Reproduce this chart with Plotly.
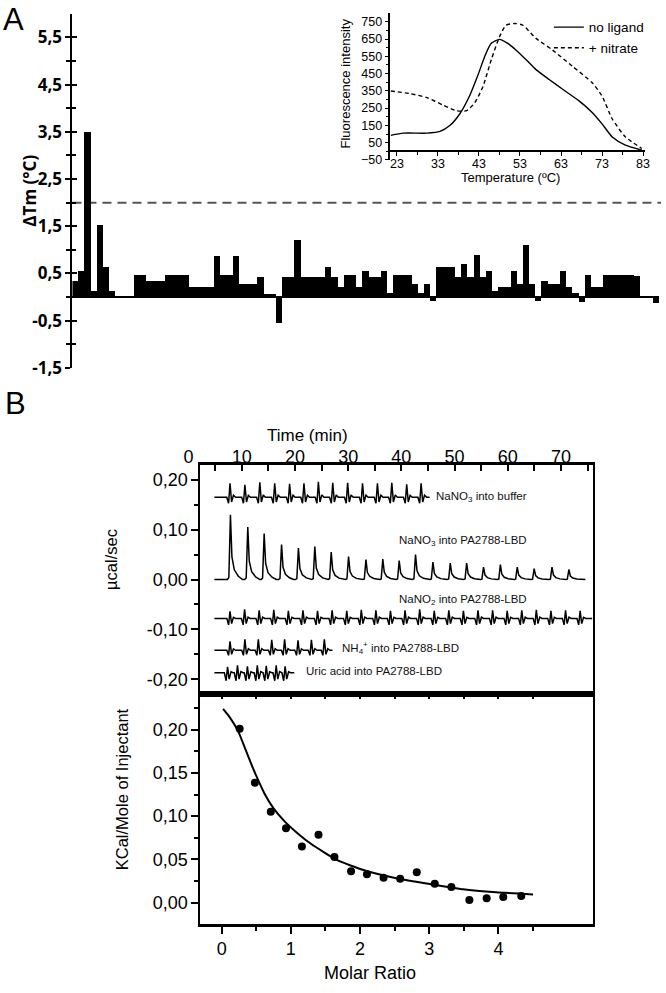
import plotly.graph_objects as go

W, H = 666, 993
def fx(p): return p / W
def fy(p): return 1 - p / H

# ---------------- Panel A: thermal shift screen ----------------
compound_index = list(range(1, 96))
dtm_values = [0.34, 0.55, 3.5, 0.14, 1.52, 0.63, 0.14, 0.015, 0.015, 0.015,
              0.47, 0.47, 0.35, 0.35, 0.35, 0.47, 0.47, 0.47, 0.47, 0.21,
              0.21, 0.21, 0.21, 0.87, 0.47, 0.47, 0.87, 0.28, 0.28, 0.28,
              0.42, 0.07, 0.07, -0.55, 0.42, 0.42, 1.22, 0.42, 0.42, 0.42,
              0.42, 0.63, 0.42, 0.21, 0.47, 0.47, 0.21, 0.55, 0.42, 0.42,
              0.55, 0.08, 0.47, 0.47, 0.47, 0.28, 0.08, 0.28, -0.07, 0.63,
              0.63, 0.63, 0.42, 0.70, 0.42, 0.89, 0.42, 0.55, 0.14, 0.21,
              0.21, 0.55, 0.28, 1.10, 0.28, -0.07, 0.35, 0.28, 0.28, 0.55,
              0.21, 0.08, -0.10, 0.47, 0.21, 0.21, 0.47, 0.47, 0.47, 0.47,
              0.47, 0.45, 0.01, 0.01, -0.13]
threshold = 2.0
a_tickvals = [-1.5, -0.5, 0.5, 1.5, 2.5, 3.5, 4.5, 5.5]
a_ticktext = ["-1,5", "-0,5", "0,5", "1,5", "2,5", "3,5", "4,5", "5,5"]
a_minor = [-1, 0, 1, 2, 3, 4, 5]

# Inset: melting curves
temp_noligand = [21.5, 24.6, 30.3, 33.5, 35.9, 38.3, 40.7, 42.8, 44.4, 46.0, 48.0,
                 50.0, 52.0, 54.5, 56.9, 60.1, 63.4, 67.4, 70.6, 73.0, 75.5, 78.7, 82.7]
fl_noligand = [92, 105, 105, 115, 149, 216, 320, 444, 549, 625, 648,
               625, 587, 530, 473, 416, 359, 292, 225, 159, 83, 35, 6]
temp_nitrate = [21.5, 26.2, 30.3, 34.3, 37.5, 40.0, 42.0, 44.0, 46.0, 48.0, 49.6,
                52.0, 53.7, 56.9, 60.9, 65.8, 70.6, 73.0, 75.5, 78.7, 82.7]
fl_nitrate = [349, 334, 311, 267, 235, 235, 282, 377, 530, 663, 730,
              740, 730, 654, 587, 492, 397, 320, 187, 83, 16]
inset_xticks = [23, 33, 43, 53, 63, 73, 83]
inset_yticks = [-50, 50, 150, 250, 350, 450, 550, 650, 750]

# ---------------- Panel B: ITC ----------------
trace_start = 4.85  # min, start of recorded baselines
buf_base, buf_dip, buf_end = 0.165, 0.012, 45.3
buf_t = [7.74, 10.54, 13.34, 16.14, 18.94, 21.64, 24.35, 27.05, 29.85, 32.65, 35.45,
         38.15, 40.95, 43.66]
buf_h = [0.028, 0.025, 0.030, 0.028, 0.027, 0.028, 0.031, 0.029, 0.029, 0.028, 0.028,
         0.029, 0.026, 0.028]

no3_base, no3_end = 0.0, 74.6
no3_t = [7.65, 10.91, 13.99, 17.26, 20.43, 23.51, 26.59, 29.85, 33.12, 36.29, 39.37,
         42.44, 45.71, 48.97, 52.05, 55.22, 58.39, 61.56, 64.74, 68.09, 71.27]
no3_h = [0.130, 0.105, 0.092, 0.070, 0.063, 0.066, 0.055, 0.046, 0.040, 0.041, 0.038,
         0.050, 0.035, 0.033, 0.033, 0.025, 0.030, 0.025, 0.022, 0.025, 0.020]

no2_base, no2_dip, no2_end = -0.078, 0.013, 75.9
no2_t = [7.74, 10.48, 13.22, 15.97, 18.71, 21.45, 24.19, 26.93, 29.68, 32.42, 35.16,
         37.90, 40.64, 43.39, 46.13, 48.87, 51.61, 54.35, 57.10, 59.84, 62.58, 65.32,
         68.06, 70.81, 73.55]
no2_h = [0.014, 0.018, 0.016, 0.017, 0.015, 0.016, 0.015, 0.016, 0.015, 0.017, 0.016,
         0.015, 0.016, 0.018, 0.015, 0.016, 0.015, 0.016, 0.016, 0.015, 0.016, 0.017,
         0.015, 0.016, 0.015]

nh4_base, nh4_dip, nh4_end = -0.142, 0.010, 27.05
nh4_t = [7.74, 10.54, 13.06, 15.58, 18.00, 20.52, 23.04, 25.47]
nh4_h = [0.018, 0.022, 0.022, 0.021, 0.022, 0.020, 0.021, 0.022]

uric_base, uric_dip, uric_end = -0.187, 0.016, 19.87
uric_t = [7.28, 9.14, 11.01, 12.87, 14.55, 16.42, 18.10]
uric_h = [0.012, 0.015, 0.013, 0.015, 0.014, 0.015, 0.013]

time_ticks = [0, 10, 20, 30, 40, 50, 60, 70]
raw_ticks = [-0.2, -0.1, 0.0, 0.1, 0.2]
raw_ticktext = ["-0,20", "-0,10", "0,00", "0,10", "0,20"]

# integrated heats
molar_ratio = [0.26, 0.48, 0.71, 0.93, 1.16, 1.40, 1.63, 1.87, 2.10, 2.34, 2.58, 2.82,
               3.08, 3.32, 3.58, 3.83, 4.07, 4.33]
heat = [0.201, 0.1385, 0.105, 0.086, 0.065, 0.0786, 0.0527, 0.0363, 0.0328, 0.0286,
        0.0275, 0.0351, 0.0218, 0.018, 0.003, 0.005, 0.0066, 0.0077]
fit_x = [0.02, 0.12, 0.24, 0.33, 0.43, 0.52, 0.62, 0.75, 0.91, 1.10, 1.29, 1.67, 2.06,
         2.54, 3.01, 3.49, 3.97, 4.50]
fit_y = [0.224, 0.214, 0.198, 0.180, 0.160, 0.143, 0.126, 0.109, 0.094, 0.080, 0.068,
         0.049, 0.0374, 0.0279, 0.0214, 0.0153, 0.0119, 0.0095]
heat_ticks = [0.0, 0.05, 0.10, 0.15, 0.20]
heat_ticktext = ["0,00", "0,05", "0,10", "0,15", "0,20"]
mr_ticks = [0, 1, 2, 3, 4]


# ------------- thermogram polyline builders (peak shape = drawing style) -------------
def exo_trace(times, heights, base, t_end):
    shape = [(-0.35, 0.0), (-0.08, 0.03), (0.22, 1.0), (0.5, 0.35), (0.95, 0.15),
             (1.7, 0.05), (2.5, 0.0)]
    xs, ys = [trace_start], [base]
    for t, h in zip(times, heights):
        for dt, f in shape:
            xs.append(t + dt)
            ys.append(base + f * h)
    xs.append(t_end)
    ys.append(base)
    return xs, ys


def ctrl_trace(times, heights, base, dip, t_end):
    xs, ys = [trace_start], [base]
    for t, h in zip(times, heights):
        pts = [(-0.55, 0.0), (-0.22, -dip), (0.05, h), (0.35, -0.8 * dip),
               (0.7, 0.15 * h), (1.1, 0.0)]
        for dt, v in pts:
            xs.append(t + dt)
            ys.append(base + v)
    xs.append(t_end)
    ys.append(base)
    return xs, ys


fig = go.Figure()

# Panel A bars
fig.add_trace(go.Bar(x=compound_index, y=dtm_values, width=1.0, marker_color="black",
                     marker_line_width=0, xaxis="x", yaxis="y", showlegend=False))
fig.add_trace(go.Scatter(x=[], y=[], xaxis="x", yaxis="y2", showlegend=False))

# Inset curves
fig.add_trace(go.Scatter(x=temp_noligand, y=fl_noligand, mode="lines", name="no ligand",
                         line=dict(color="black", width=1.4, shape="spline", smoothing=0.6),
                         xaxis="x3", yaxis="y3"))
fig.add_trace(go.Scatter(x=temp_nitrate, y=fl_nitrate, mode="lines", name="+ nitrate",
                         line=dict(color="black", width=1.4, dash="4px,3px", shape="spline",
                                   smoothing=0.6),
                         xaxis="x3", yaxis="y3"))

# Thermograms
for xs, ys in [ctrl_trace(buf_t, buf_h, buf_base, buf_dip, buf_end),
               exo_trace(no3_t, no3_h, no3_base, no3_end),
               ctrl_trace(no2_t, no2_h, no2_base, no2_dip, no2_end),
               ctrl_trace(nh4_t, nh4_h, nh4_base, nh4_dip, nh4_end),
               ctrl_trace(uric_t, uric_h, uric_base, uric_dip, uric_end)]:
    fig.add_trace(go.Scatter(x=xs, y=ys, mode="lines", line=dict(color="black", width=1.5),
                             xaxis="x4", yaxis="y4", showlegend=False))
fig.add_trace(go.Scatter(x=[], y=[], xaxis="x7", yaxis="y4", showlegend=False))

# Integrated heats
fig.add_trace(go.Scatter(x=fit_x, y=fit_y, mode="lines",
                         line=dict(color="black", width=2, shape="spline", smoothing=0.5),
                         xaxis="x5", yaxis="y5", showlegend=False))
fig.add_trace(go.Scatter(x=molar_ratio, y=heat, mode="markers",
                         marker=dict(color="black", size=8),
                         xaxis="x5", yaxis="y5", showlegend=False))
fig.add_trace(go.Scatter(x=[], y=[], xaxis="x6", yaxis="y5", showlegend=False))

fontA = dict(family="Open Sans", size=17, color="black", weight="bold")
fontB = dict(family="Liberation Sans", size=18, color="black")
fontI = dict(family="Liberation Sans", size=12.5, color="black")

bx0, bx1 = fx(202), fx(597)
mr_range = [-0.306, 5.36]
time_range = [2.24, 75.93]          # frame of the thermogram panel
time_label_range = [-0.93, 75.93]   # the printed time scale starts left of the frame

fig.update_layout(
    width=W, height=H, margin=dict(l=0, r=0, t=0, b=0),
    paper_bgcolor="white", plot_bgcolor="rgba(0,0,0,0)", bargap=0,
    legend=dict(x=fx(553), y=fy(12), xanchor="left", yanchor="top",
                font=dict(family="Liberation Sans", size=13.5, color="black"),
                bgcolor="rgba(0,0,0,0)", tracegroupgap=0, itemwidth=30),
    # Panel A
    xaxis=dict(domain=[fx(73), fx(664.3)], range=[0.5, 95.5], visible=False, fixedrange=True),
    yaxis=dict(domain=[fy(372), fy(14)], range=[-1.5, 6.0], anchor="x",
               showline=True, linecolor="black", linewidth=2, showgrid=False,
               zeroline=True, zerolinecolor="black", zerolinewidth=2,
               tickvals=a_tickvals, ticktext=a_ticktext, ticks="outside", ticklen=5,
               tickwidth=2, tickcolor="black", tickfont=fontA,
               minor=dict(tickvals=a_minor, ticks="outside", ticklen=4, tickwidth=1.5,
                          tickcolor="black")),
    yaxis2=dict(overlaying="y", anchor="x", side="left", range=[-1.5, 6.0],
                showline=False, showgrid=False, zeroline=False, showticklabels=False,
                tickvals=a_tickvals, ticks="inside", ticklen=5, tickwidth=2, tickcolor="black",
                minor=dict(tickvals=a_minor, ticks="inside", ticklen=4, tickwidth=1.5,
                           tickcolor="black")),
    # Inset
    xaxis3=dict(domain=[fx(393.3), fx(650)], range=[21.4, 83.5], anchor="free",
                position=fy(161.7) + (50 / 850) * (fy(13.3) - fy(161.7)),
                showline=True, linecolor="black", linewidth=1.5, showgrid=False, zeroline=False,
                tickvals=inset_xticks, ticks="outside", ticklen=4, tickcolor="black",
                tickfont=fontI, ticklabelstandoff=-3,
                minor=dict(tickvals=[28, 38, 48, 58, 68, 78], ticks="outside", ticklen=3,
                           tickcolor="black")),
    yaxis3=dict(domain=[fy(161.7), fy(13.3)], range=[-50, 800], anchor="x3",
                showline=True, linecolor="black", linewidth=1.5, showgrid=False, zeroline=False,
                tickvals=inset_yticks, ticks="outside", ticklen=4, tickcolor="black",
                tickfont=fontI,
                minor=dict(tickvals=[0, 100, 200, 300, 400, 500, 600, 700], ticks="outside",
                           ticklen=3, tickcolor="black")),
    # Panel B top (frame + inner ticks)
    xaxis4=dict(domain=[bx0, bx1], range=time_range, anchor="y4", side="top",
                showline=True, mirror=True, linecolor="black", linewidth=2.5, showgrid=False,
                zeroline=False, showticklabels=False,
                tickvals=[5, 10, 15, 20, 25, 30, 35, 40, 45, 50, 55, 60, 65, 70, 75],
                ticks="inside", ticklen=6, tickwidth=2, tickcolor="black"),
    # printed time scale
    xaxis7=dict(domain=[fx(185), bx1], range=time_label_range, anchor="free",
                position=fy(470), side="top", showline=False, showgrid=False, zeroline=False,
                tickvals=time_ticks, ticks="", tickfont=fontB, ticklabelstandoff=-2),
    yaxis4=dict(domain=[fy(702), fy(470)], range=[-0.23, 0.23], anchor="x4",
                showline=True, mirror=True, linecolor="black", linewidth=2, showgrid=False,
                zeroline=False, tickvals=raw_ticks, ticktext=raw_ticktext, ticks="outside",
                ticklen=7, tickwidth=2, tickcolor="black", tickfont=fontB,
                minor=dict(tickvals=[-0.15, -0.05, 0.05, 0.15], ticks="outside", ticklen=4,
                           tickwidth=2, tickcolor="black")),
    # Panel B bottom
    xaxis5=dict(domain=[bx0, bx1], range=mr_range, anchor="y5",
                showline=True, mirror=True, linecolor="black", linewidth=2.5, showgrid=False,
                zeroline=False, tickvals=mr_ticks, ticks="outside", ticklen=7, tickwidth=2,
                tickcolor="black", tickfont=fontB,
                minor=dict(tickvals=[0.5, 1.5, 2.5, 3.5, 4.5], ticks="outside", ticklen=4,
                           tickwidth=2, tickcolor="black")),
    yaxis5=dict(domain=[fy(934.3), fy(702)], range=[-0.0247, 0.241], anchor="x5",
                showline=True, mirror=True, linecolor="black", linewidth=2, showgrid=False,
                zeroline=False, tickvals=heat_ticks, ticktext=heat_ticktext, ticks="outside",
                ticklen=7, tickwidth=2, tickcolor="black", tickfont=fontB,
                minor=dict(tickvals=[-0.025, 0.025, 0.075, 0.125, 0.175, 0.225],
                           ticks="outside", ticklen=4, tickwidth=2, tickcolor="black")),
    xaxis6=dict(overlaying="x5", anchor="y5", side="top", range=mr_range, showline=False,
                showgrid=False, zeroline=False, showticklabels=False,
                tickvals=[0, 0.5, 1, 1.5, 2, 2.5, 3, 3.5, 4, 4.5], ticks="inside", ticklen=5,
                tickwidth=2, tickcolor="black"),
)

# threshold line
fig.add_shape(type="line", xref="paper", x0=fx(73), x1=1.0, yref="y", y0=threshold,
              y1=threshold, line=dict(color="#555555", width=2, dash="9px,6px"), layer="below")

ann = []
def label(text, x, y, size, angle=0, xanchor="center", family="Liberation Sans",
          weight="normal", color="black"):
    ann.append(dict(text=text, x=fx(x), y=fy(y), xref="paper", yref="paper", showarrow=False,
                    xanchor=xanchor, yanchor="middle", textangle=angle,
                    font=dict(family=family, size=size, color=color, weight=weight)))

label("A", 14, 20, 31)
label("B", 16, 408, 31)
label("ΔTm (°C)", 30, 193, 17, angle=-90, family="Open Sans", weight="bold")
label("Fluorescence intensity", 348, 84, 13, angle=-90)
label("Temperature (ºC)", 514, 179, 13)
label("Time (min)", 310, 440, 17)
label("µcal/sec", 112, 566, 16.5, angle=-90)
label("KCal/Mole of Injectant", 123, 798, 16.5, angle=-90)
label("Molar Ratio", 373, 984, 18)
label("NaNO<sub>3</sub> into buffer", 437, 503, 11.5, xanchor="left", color="#111")
label("NaNO<sub>3</sub> into PA2788-LBD", 400, 547, 11.5, xanchor="left", color="#111")
label("NaNO<sub>2</sub> into PA2788-LBD", 400, 607, 11.5, xanchor="left", color="#111")
label("NH<sub>4</sub><sup>+</sup> into PA2788-LBD", 343, 655, 11.5, xanchor="left", color="#111")
label("Uric acid into PA2788-LBD", 306, 679, 11.5, xanchor="left", color="#111")
fig.update_layout(annotations=ann)

page_css = ("var h=document.documentElement,b=document.body;"
            "[h,b].forEach(function(e){e.style.margin='0';e.style.padding='0';"
            "e.style.overflow='hidden';});")
fig.write_html("out.html", config={"displayModeBar": False}, post_script=page_css)
